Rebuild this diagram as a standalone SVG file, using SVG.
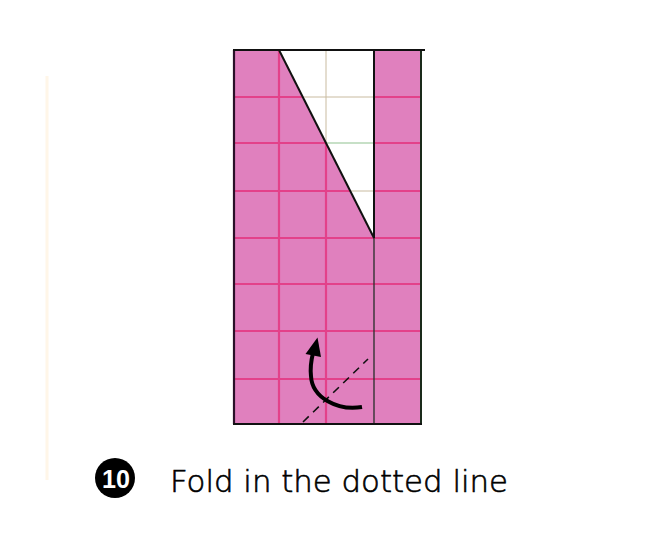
<svg xmlns="http://www.w3.org/2000/svg" width="647" height="539" viewBox="0 0 647 539">
<style>
.cell{fill:#E080BE}
.grid{stroke:#E3418A;stroke-width:2.2;fill:none}
.faint{stroke:#C9BBA0;stroke-width:1;fill:none}
.edge{stroke:#111;stroke-width:2;fill:none}
.dash{stroke:#111;stroke-width:1.6;stroke-dasharray:8 6;fill:none}
.arrow{stroke:#000;stroke-width:4;fill:none;stroke-linecap:butt}
.label{font-family:"DejaVu Sans","Liberation Sans",Arial,sans-serif;font-weight:200;font-size:30px;fill:#000;stroke:#000;stroke-width:0.6}
.num{font-family:"Liberation Sans",Arial,sans-serif;font-weight:bold;font-size:26px;fill:#fff}
</style>
<rect width="647" height="539" fill="#fff"/>
<line x1="47" y1="76" x2="47" y2="480" stroke="#FFF6E8" stroke-width="3"/>
<g id="paper">
  <rect class="cell" x="234" y="50" width="187" height="374"/>
  <g class="grid">
    <line x1="234" y1="97" x2="421" y2="97"/>
    <line x1="234" y1="143" x2="421" y2="143"/>
    <line x1="234" y1="191" x2="421" y2="191"/>
    <line x1="234" y1="238" x2="421" y2="238"/>
    <line x1="234" y1="284" x2="421" y2="284"/>
    <line x1="234" y1="331" x2="421" y2="331"/>
    <line x1="234" y1="379" x2="421" y2="379"/>
    <line x1="279" y1="50" x2="279" y2="424"/>
    <line x1="326" y1="50" x2="326" y2="424"/>
  </g>
  <polygon points="279,50 374,50 374,238" fill="#fff"/>
  <g class="faint">
    <line x1="303" y1="97" x2="374" y2="97"/>
    <line x1="326" y1="143" x2="374" y2="143" stroke="#B5D6B5" stroke-width="1.5"/>
    <line x1="350" y1="191" x2="374" y2="191"/>
    <line x1="326" y1="50" x2="326" y2="143"/>
  </g>
  <line x1="374" y1="238" x2="374" y2="424" stroke="#333" stroke-width="1.4"/>
  <line class="edge" x1="374" y1="50" x2="374" y2="238"/>
  <line class="edge" x1="279" y1="50" x2="374" y2="238" stroke-width="2.4"/>
  <line x1="421" y1="50" x2="421" y2="424" stroke="#1A2A1A" stroke-width="2"/>
  <line x1="234" y1="50" x2="234" y2="424" stroke="#2A1028" stroke-width="2.2"/>
  <line class="edge" x1="233" y1="50" x2="425" y2="50"/>
  <line class="edge" x1="233" y1="424" x2="422" y2="424"/>
</g>
<g id="fold-line">
  <line class="dash" x1="303" y1="422" x2="368" y2="359"/>
</g>
<g id="connectors">
  <path class="arrow" d="M362,407 C338,411 312,398 311,376 C310,367 311,361 313,353"/>
  <polygon points="317.5,337.5 305.5,354 321,357" fill="#000"/>
</g>
<g id="step-label">
  <circle cx="115" cy="478" r="20" fill="#000"/>
  <text class="num" x="116" y="488" text-anchor="middle" textLength="28" lengthAdjust="spacingAndGlyphs">10</text>
  <text class="label" x="170" y="492" textLength="338" lengthAdjust="spacingAndGlyphs">Fold in the dotted line</text>
</g>
</svg>
